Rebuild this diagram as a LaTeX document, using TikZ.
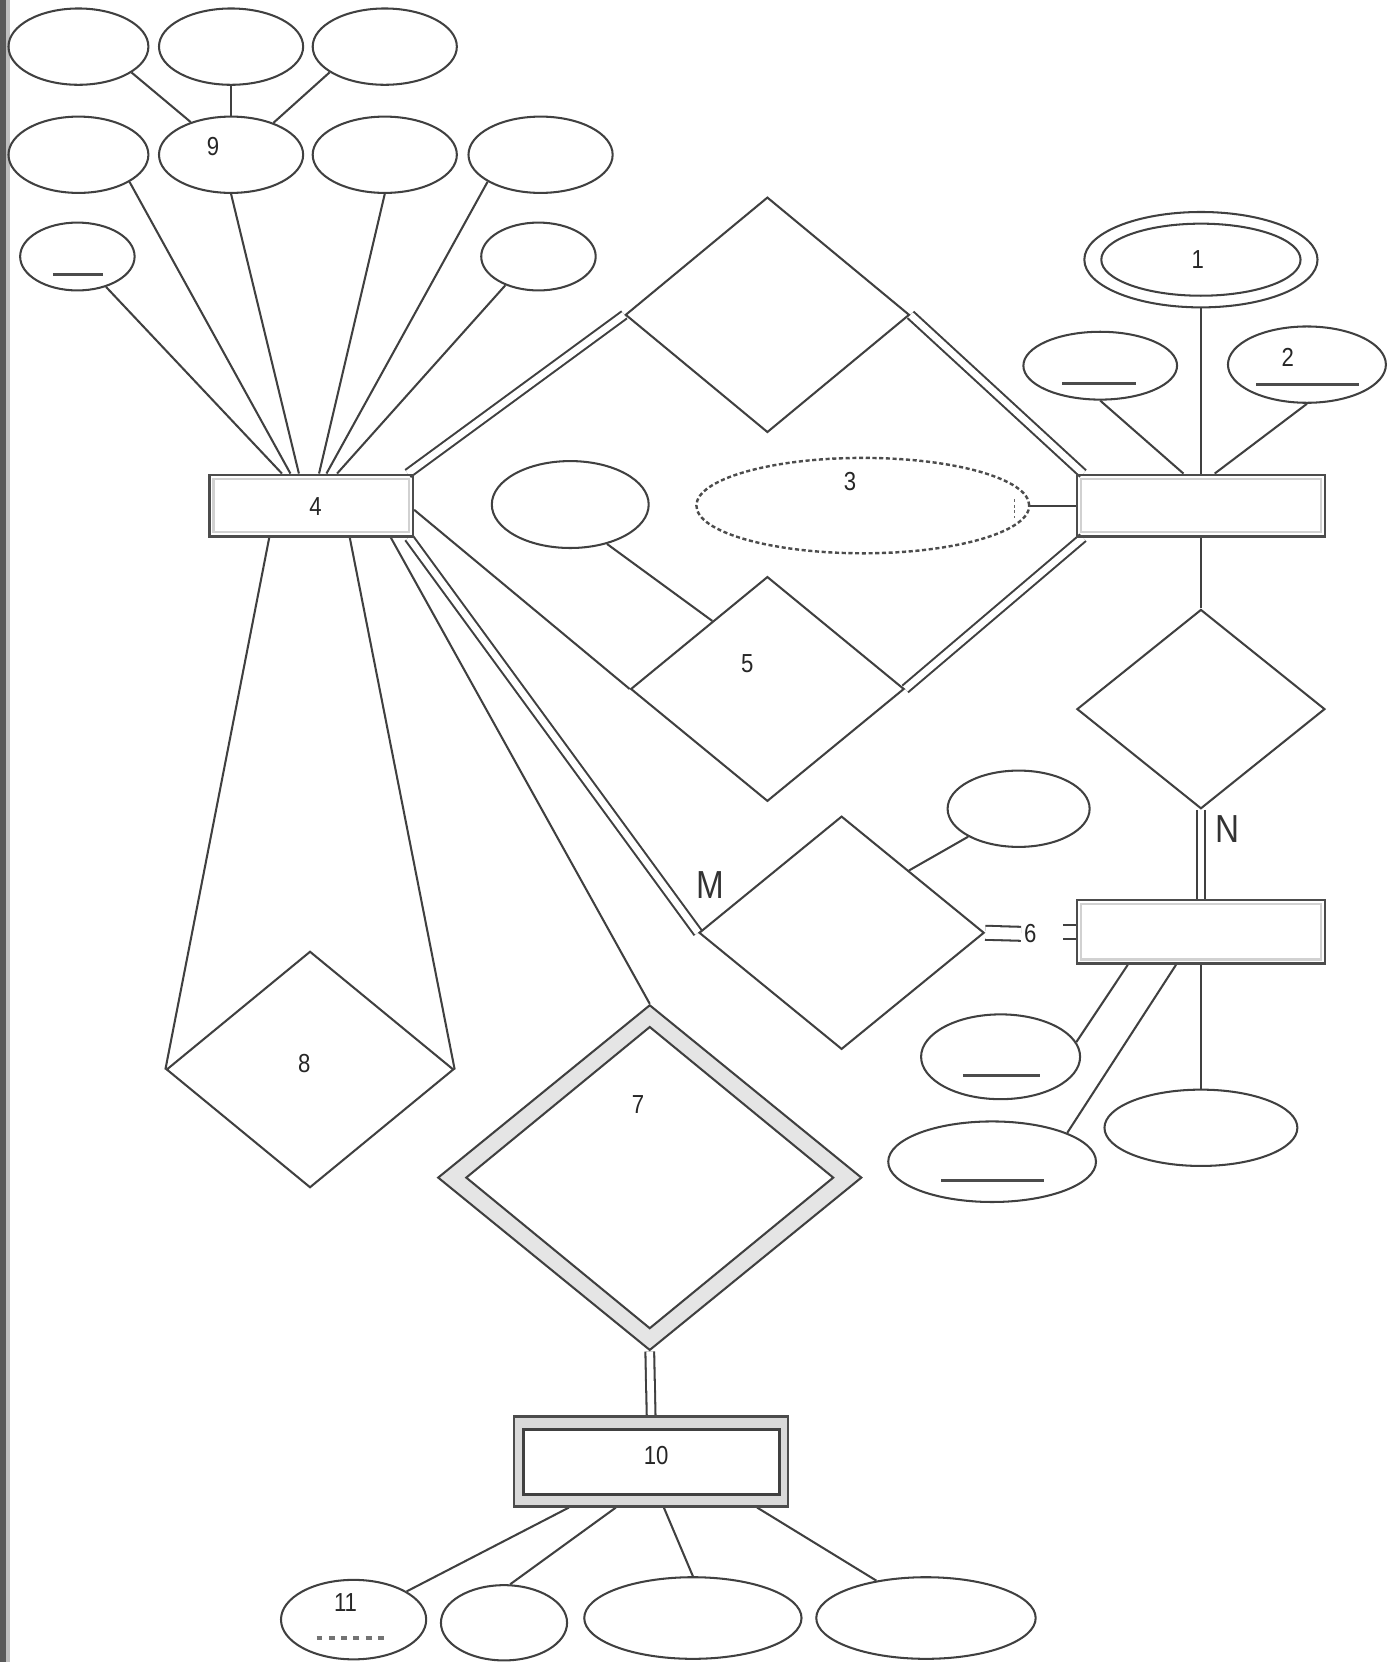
\documentclass[tikz,border=0pt]{standalone}
\usepackage{fontspec}
\setmainfont{Liberation Sans}[FakeStretch=0.85]
\usetikzlibrary{shapes.geometric,calc,backgrounds}

\tikzset{
    attr/.style 2 args={ellipse, draw=black!75, inner sep=0pt,
        minimum width=#1*0.02cm, minimum height=#2*0.02cm},
    entity/.style 2 args={rectangle, draw=black!70, line width=1.4pt, inner sep=0pt,
        minimum width=#1*0.02cm, minimum height=#2*0.02cm,
        path picture={\draw[black!18,line width=1.2pt]
            ([shift={(2.2pt,2.2pt)}]path picture bounding box.south west) rectangle
            ([shift={(-2.2pt,-2.2pt)}]path picture bounding box.north east);}},
    wbox/.style 2 args={rectangle, inner sep=0pt,
        minimum width=#1*0.02cm, minimum height=#2*0.02cm},
    rel/.style 2 args={diamond, draw=black!75, inner sep=0pt,
        minimum width=#1*0.02cm, minimum height=#2*0.02cm},
    num/.style={inner sep=0pt, text=black!85, font=\fontsize{14}{16}\selectfont},
    card/.style={inner sep=0pt, text=black!80, font=\fontsize{21}{24}\selectfont},
    link/.style={draw=black!75, line width=1.1pt},
    dbl/.style={link, double=white, double distance=3.6pt},
    keyline/.style={draw=black!70, line width=1.5pt},
}

\begin{document}
\begin{tikzpicture}[x=0.02cm, y=-0.02cm, line width=1.1pt, draw=black!75]
\useasboundingbox (0,0) rectangle (1316,1568);

% left margin bar
\fill[black!65] (0,0) rectangle (5.7,1568);
\fill[black!25] (5.7,0) rectangle (9.4,1568);

% attributes of entity 4
\node[attr={132}{72}] (a1) at (74,44) {};
\node[attr={136}{72}] (a2) at (218,44) {};
\node[attr={136}{72}] (a3) at (363,44) {};
\node[attr={132}{72}] (b1) at (74,146) {};
\node[attr={136}{72}] (b2) at (218,146) {};
\node[attr={136}{72}] (b3) at (363,146) {};
\node[attr={136}{72}] (b4) at (510,146) {};
\node[attr={108}{64}] (c1) at (73,242) {};
\node[attr={108}{64}] (c2) at (508,242) {};
\draw[keyline] ($(c1)+(-23,17)$) -- ++(47,0);

% entity 4
\node[entity={192}{58}] (e4) at (293.5,477) {};

% right entity and its attributes
\node[entity={234}{58}] (r1) at (1133,477) {};
\node[attr={220}{90}] (m1) at (1133,245) {};
\node[attr={188}{68}] (m1in) at (1133,245) {};
\node[attr={145}{64}] (k2) at (1038,345) {};
\node[attr={149}{72}] (k3) at (1233,344) {};
\draw[keyline] ($(k2)+(-36,17)$) -- ++(70,0);
\draw[keyline] ($(k3)+(-48,19)$) -- ++(97,0);
\node[attr={314}{90}, draw=black!70, line width=1.3pt, dash pattern=on 2.2pt off 1.4pt] (x3) at (814,477) {};
\draw[black!60, line width=0.8pt, dash pattern=on 1.5pt off 1.5pt] ($(x3)+(143,-6)$) -- ++(0,18);

% relationships between entity 4 and the right entity
\node[rel={268}{222}] (d1) at (724,297) {};
\node[rel={258}{212}] (d5) at (724,650) {};
\node[attr={148}{82}] (p5) at (538,476) {};

% right lower entity
\node[rel={234}{188}] (dn) at (1133,669) {};
\node[entity={234}{60}] (r2) at (1133,879) {};
\node[rel={269}{220}] (dm) at (794,880) {};
\node[attr={134}{72}] (q4) at (961,763) {};
\node[attr={150}{80}] (u1) at (944,997) {};
\node[attr={196}{76}] (u2) at (936,1096) {};
\node[attr={182}{72}] (u3) at (1133,1064) {};
\draw[keyline] ($(u1)+(-35.5,18)$) -- ++(73,0);
\draw[keyline] ($(u2)+(-48,18)$) -- ++(97,0);

% recursive and identifying relationships
\node[rel={271}{223}] (d8) at (292.5,1009) {};
\node[rel={400}{326}, fill=black!10] (d7) at (613,1111) {};
\node[rel={347}{285}, fill=white] (d7in) at (613,1111) {};

% weak entity 10
\node[wbox={258.6}{84.5}, draw=black!70, line width=1.4pt, fill=black!15] (e10) at (614.3,1378.8) {};
\node[wbox={241.5}{60.6}, draw=black!75, line width=1.6pt, fill=white] (e10in) at (614.75,1379.3) {};
\node[attr={137}{75}] (f1) at (333.6,1528) {};
\node[attr={119}{71}] (f2) at (475.5,1531) {};
\node[attr={205}{77}] (f3) at (653.7,1526.5) {};
\node[attr={207}{77}] (f4) at (873.6,1526.5) {};
\draw[black!55, line width=2pt, dash pattern=on 3.2pt off 3.4pt] ($(f1)+(-35,17)$) -- ++(67,0);

% labels
\node[num] (t1) at (1130,245) {1};
\node[num] (t2) at (1215,337) {2};
\node[num] (t3) at (802,454) {3};
\node[num] (t4) at (297.6,478) {4};
\node[num] (t5) at (705,626) {5};
\node[num] (l6) at (972,881) {6};
\node[num] (t7) at (602,1042) {7};
\node[num] (t8) at (287,1003) {8};
\node[num] (t9) at (201,138) {9};
\node[num] (t10) at (619,1373) {10};
\node[num] (t11) at (326,1512) {11};
\node[card] (cm) at (670,835) {M};
\node[card] (cn) at (1158,782) {N};

% connectors
\begin{scope}[on background layer]
\draw[link] (a1.-26) -- (b2.141);
\draw[link] (a2) -- (b2);
\draw[link] (a3.-155) -- (b2.37);
\draw[link] (c1) -- ($(e4.north)+(-27.5,0)$);
\draw[link] (b1.-28) -- ($(e4.north)+(-19.5,0)$);
\draw[link] (b2.south) -- ($(e4.north)+(-11.5,0)$);
\draw[link] (b3.south) -- ($(e4.north)+(7.5,0)$);
\draw[link] (b4.-153) -- ($(e4.north)+(14.5,0)$);
\draw[link] (c2.-139) -- ($(e4.north)+(24.5,0)$);

\draw[link] (m1) -- (r1);
\draw[link] (k2.south) -- ($(r1.north)+(-16.5,0)$);
\draw[link] (k3.south) -- ($(r1.north)+(13,0)$);
\draw[link] (x3) -- (r1);

\draw[dbl] ($(e4.north east)+(-6,0)$) -- (d1.west);
\draw[dbl] (d1.east) -- ($(r1.north west)+(7,0)$);
\draw[link] ($(e4.east)+(0,4)$) -- (d5.west);
\draw[dbl] (d5.east) -- ($(r1.south west)+(7,0)$);
\draw[link] (p5.-47) -- ($(d5.west)!0.6!(d5.north)$);

\draw[link] (r1) -- (dn);
\draw[dbl] (dn) -- (r2);
\draw[dbl] ($(e4.south east)+(-5,0)$) -- (dm.west);
\draw[link] (q4.-151) -- ($(dm.north)!0.47!(dm.east)$);
\draw[dbl, double distance=6.4pt] (dm.east) -- ($(l6.west)+(-2,0)$);
\draw[dbl, double distance=6.4pt] ($(r2.west)+(-12,0)$) -- (r2.west);
\draw[link] (u1.11) -- ($(r2.south)+(-69,0)$);
\draw[link] (u2.21) -- ($(r2.south)+(-23.5,0)$);
\draw[link] (u3) -- (r2);

\draw[link] ($(e4.south)+(-39.5,0)$) -- (d8.west);
\draw[link] ($(e4.south)+(36.5,0)$) -- (d8.east);
\draw[link] ($(e4.south east)+(-22,0)$) -- (d7.north);
\draw[dbl] (d7.south) -- (e10.north);
\draw[link] (f1.28) -- ($(e10.south)+(-77.6,0)$);
\draw[link] (f2.81) -- ($(e10.south)+(-33.3,0)$);
\draw[link] (f3.north) -- ($(e10.south)+(12,0)$);
\draw[link] (f4.143) -- ($(e10.south)+(100,0)$);
\end{scope}

\end{tikzpicture}
\end{document}
